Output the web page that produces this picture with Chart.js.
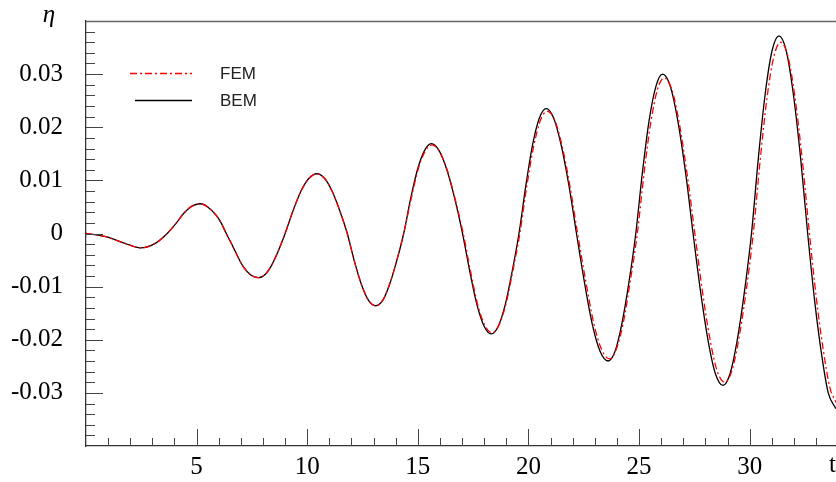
<!DOCTYPE html>
<html>
<head>
<meta charset="utf-8">
<script src="https://cdn.jsdelivr.net/npm/chart.js@4"></script>
<style>
  html, body { margin: 0; padding: 0; background: #fff; }
  #wrap { width: 836px; height: 482px; }
</style>
</head>
<body>
<div id="wrap"><canvas id="waveChart"></canvas></div>
<script>
// values
const tBEM = [0, 0.89, 1.79, 2.47, 3.15, 3.67, 4.05, 4.42, 4.77, 5.15, 5.5, 5.89, 6.12, 6.34,
  6.55, 6.75, 7.1, 7.45, 7.8, 8.1, 8.4, 8.7, 9.0, 9.36, 9.72, 10.08, 10.44, 10.78, 11.12, 11.47, 11.81,
  12.13, 12.45, 12.77, 13.09, 13.41, 13.72, 14.04, 14.36, 14.67, 14.98, 15.3, 15.61, 15.96, 16.31,
  16.67, 17.02, 17.35, 17.67, 18.0, 18.32, 18.63, 18.95, 19.26, 19.57, 19.88, 20.18, 20.49, 20.8,
  21.14, 21.48, 21.83, 22.17, 22.53, 22.88, 23.24, 23.6, 23.91, 24.22, 24.54, 24.85, 25.15, 25.45,
  25.76, 26.06, 26.41, 26.75, 27.1, 27.44, 27.78, 28.12, 28.45, 28.79, 29.11, 29.43, 29.76, 30.08,
  30.39, 30.7, 31.01, 31.32, 31.65, 31.97, 32.3, 32.62, 32.93, 33.24, 33.55, 33.9];
const etaBEM = [0, -0.0006, -0.0019, -0.0027, -0.0018, 0, 0.0018, 0.0038, 0.0051, 0.0056, 0.005, 0.0034, 0.0019, 0,
  -0.0017, -0.0034, -0.0062, -0.0078, -0.0083, -0.0077, -0.0059, -0.0032, 0, 0.0043, 0.008, 0.0104, 0.01125, 0.0104, 0.008, 0.0043, 0,
  -0.0052, -0.0096, -0.0126, -0.0136, -0.0126, -0.0096, -0.0052, 0, 0.0065, 0.012, 0.0156, 0.0169, 0.0156, 0.012,
  0.0065, 0, -0.0072, -0.0134, -0.0175, -0.0189, -0.0175, -0.0134, -0.0072, 0, 0.009, 0.0166, 0.0217, 0.0235,
  0.0217, 0.0166, 0.009, 0, -0.0092, -0.017, -0.0222, -0.024, -0.0222, -0.017, -0.0092, 0, 0.0115, 0.0212,
  0.0277, 0.03, 0.0277, 0.0212, 0.0115, 0, -0.011, -0.0202, -0.0264, -0.0286, -0.0264, -0.0202, -0.011, 0,
  0.0142, 0.0263, 0.0344, 0.0372, 0.0344, 0.0263, 0.0142, 0, -0.0125, -0.0225, -0.03, -0.033];

const tFEM = [0, 0.89, 1.79, 2.47, 3.15, 3.67, 4.05, 4.42, 4.77, 5.15, 5.5, 5.89, 6.12, 6.34,
  6.55, 6.75, 7.1, 7.45, 7.8, 8.1, 8.4, 8.7, 9.0, 9.36, 9.72, 10.08, 10.44, 10.78, 11.12, 11.47, 11.81,
  12.13, 12.45, 12.77, 13.09, 13.41, 13.72, 14.04, 14.36, 14.69, 15.0, 15.32, 15.63, 15.98, 16.33,
  16.69, 17.05, 17.38, 17.7, 18.03, 18.35, 18.66, 18.98, 19.29, 19.61, 19.92, 20.23, 20.54, 20.85,
  21.19, 21.53, 21.88, 22.22, 22.59, 22.94, 23.3, 23.66, 23.97, 24.29, 24.6, 24.92, 25.22, 25.52,
  25.83, 26.13, 26.48, 26.82, 27.17, 27.52, 27.86, 28.2, 28.53, 28.87, 29.19, 29.51, 29.84, 30.16,
  30.47, 30.78, 31.09, 31.4, 31.73, 32.05, 32.38, 32.7, 33.01, 33.32, 33.63, 33.9];
const etaFEM = [0, -0.0006, -0.0019, -0.0027, -0.0018, 0, 0.0018, 0.0038, 0.0051, 0.0056, 0.005, 0.0034, 0.0019, 0,
  -0.0017, -0.0034, -0.0062, -0.0078, -0.0083, -0.0077, -0.0059, -0.0032, 0, 0.0043, 0.008, 0.0104, 0.01125, 0.0104, 0.008, 0.0043, 0,
  -0.0052, -0.0096, -0.0126, -0.0136, -0.0126, -0.0096, -0.0052, 0, 0.0064, 0.0119, 0.0154, 0.0167, 0.0154, 0.0119,
  0.0064, 0, -0.0071, -0.0133, -0.0173, -0.0187, -0.0173, -0.0133, -0.0071, 0, 0.0088, 0.0163, 0.0213, 0.023,
  0.0213, 0.0163, 0.0088, 0, -0.009, -0.0167, -0.0218, -0.0236, -0.0218, -0.0167, -0.009, 0, 0.0112, 0.0207,
  0.0271, 0.0293, 0.0271, 0.0207, 0.0112, 0, -0.0108, -0.0198, -0.0259, -0.028, -0.0259, -0.0198, -0.0108, 0,
  0.0137, 0.0255, 0.0333, 0.036, 0.0333, 0.0255, 0.0137, 0, -0.0121, -0.0218, -0.0291, -0.0318];

const seriesNames = ["FEM", "BEM"];
const xTicks = [5, 10, 15, 20, 25, 30];
const yTicks = [-0.03, -0.02, -0.01, 0, 0.01, 0.02, 0.03];

const toPoints = (xs, ys) => xs.map((x, i) => ({ x: x, y: ys[i] }));

const serif = "'Liberation Serif', 'DejaVu Serif', serif";
const sans = "'Liberation Sans', Arial, sans-serif";

// inward tick marks, frame, axis titles and the legend
const framePlugin = {
  id: "frame",
  afterDraw(chart) {
    const ctx = chart.ctx;
    const area = chart.chartArea;
    const xs = chart.scales.x;
    const ys = chart.scales.y;

    ctx.save();
    ctx.strokeStyle = "#444";
    ctx.lineWidth = 1;
    ctx.beginPath();
    for (let i = -19; i <= 19; i++) {
      const py = Math.round(ys.getPixelForValue(i * 0.002)) + 0.5;
      const len = i % 5 === 0 ? 17 : 9;
      ctx.moveTo(area.left, py);
      ctx.lineTo(area.left + len, py);
    }
    for (let i = 1; i <= 33; i++) {
      const px = Math.round(xs.getPixelForValue(i)) + 0.5;
      const len = i % 5 === 0 ? 17 : 8;
      ctx.moveTo(px, area.bottom);
      ctx.lineTo(px, area.bottom - len);
    }
    ctx.stroke();

    // top frame line
    ctx.strokeStyle = "#666";
    ctx.lineWidth = 1.5;
    ctx.beginPath();
    ctx.moveTo(area.left, area.top + 0.5);
    ctx.lineTo(area.right, area.top + 0.5);
    ctx.stroke();

    // axis titles
    ctx.fillStyle = "#000";
    ctx.font = "italic 25px " + serif;
    ctx.textAlign = "center";
    ctx.textBaseline = "middle";
    ctx.fillText("\u03b7", 49, 15);
    ctx.font = "25px " + serif;
    ctx.textAlign = "left";
    ctx.fillText("t", 829, 465);

    // legend
    const rows = [
      { ds: chart.data.datasets[0], x1: 130, y: 73 },
      { ds: chart.data.datasets[1], x1: 135, y: 100 },
    ];
    rows.forEach((r) => {
      ctx.strokeStyle = r.ds.borderColor;
      ctx.lineWidth = r.ds.borderWidth;
      ctx.setLineDash(r.ds.borderDash || []);
      ctx.beginPath();
      ctx.moveTo(r.x1, r.y + 0.5);
      ctx.lineTo(192, r.y + 0.5);
      ctx.stroke();
      ctx.setLineDash([]);
      ctx.fillStyle = "#222";
      ctx.font = "17px " + sans;
      ctx.textAlign = "left";
      ctx.textBaseline = "middle";
      ctx.fillText(r.ds.label, 220, r.y + 1);
    });
    ctx.restore();
  },
};

const noPadding = (scale) => {
  scale.paddingTop = 0;
  scale.paddingBottom = 0;
  scale.paddingLeft = 0;
  scale.paddingRight = 0;
};

new Chart(document.getElementById("waveChart"), {
  type: "line",
  data: {
    datasets: [
      {
        label: seriesNames[0],
        data: toPoints(tFEM, etaFEM),
        borderColor: "#ff0000",
        borderWidth: 1.3,
        borderDash: [7, 3, 2, 3],
        pointRadius: 0,
        cubicInterpolationMode: "monotone",
        fill: false,
      },
      {
        label: seriesNames[1],
        data: toPoints(tBEM, etaBEM),
        borderColor: "#000",
        borderWidth: 1.3,
        pointRadius: 0,
        cubicInterpolationMode: "monotone",
        fill: false,
      },
    ],
  },
  options: {
    responsive: true,
    maintainAspectRatio: false,
    animation: false,
    devicePixelRatio: 1,
    layout: { padding: { top: 21, right: 0, bottom: 0, left: 0 } },
    plugins: {
      legend: { display: false },
      tooltip: { enabled: false },
    },
    scales: {
      x: {
        type: "linear",
        min: 0,
        max: 33.9,
        afterFit: (scale) => { scale.height = 36; noPadding(scale); },
        afterBuildTicks: (scale) => { scale.ticks = xTicks.map((v) => ({ value: v })); },
        grid: { display: false, drawTicks: false },
        border: { display: true, color: "#333", width: 1.3 },
        ticks: {
          font: { family: serif, size: 25 },
          color: "#000",
          padding: 6,
          maxRotation: 0,
          callback: (v) => String(v),
        },
      },
      y: {
        type: "linear",
        min: -0.04,
        max: 0.04,
        afterFit: (scale) => { scale.width = 86; noPadding(scale); },
        afterBuildTicks: (scale) => { scale.ticks = yTicks.map((v) => ({ value: v })); },
        grid: { display: false, drawTicks: false },
        border: { display: true, color: "#333", width: 1.3 },
        ticks: {
          font: { family: serif, size: 25 },
          color: "#000",
          padding: 23,
          callback: (v) => (v === 0 ? "0" : v.toFixed(2)),
        },
      },
    },
  },
  plugins: [framePlugin],
});
</script>
</body>
</html>
